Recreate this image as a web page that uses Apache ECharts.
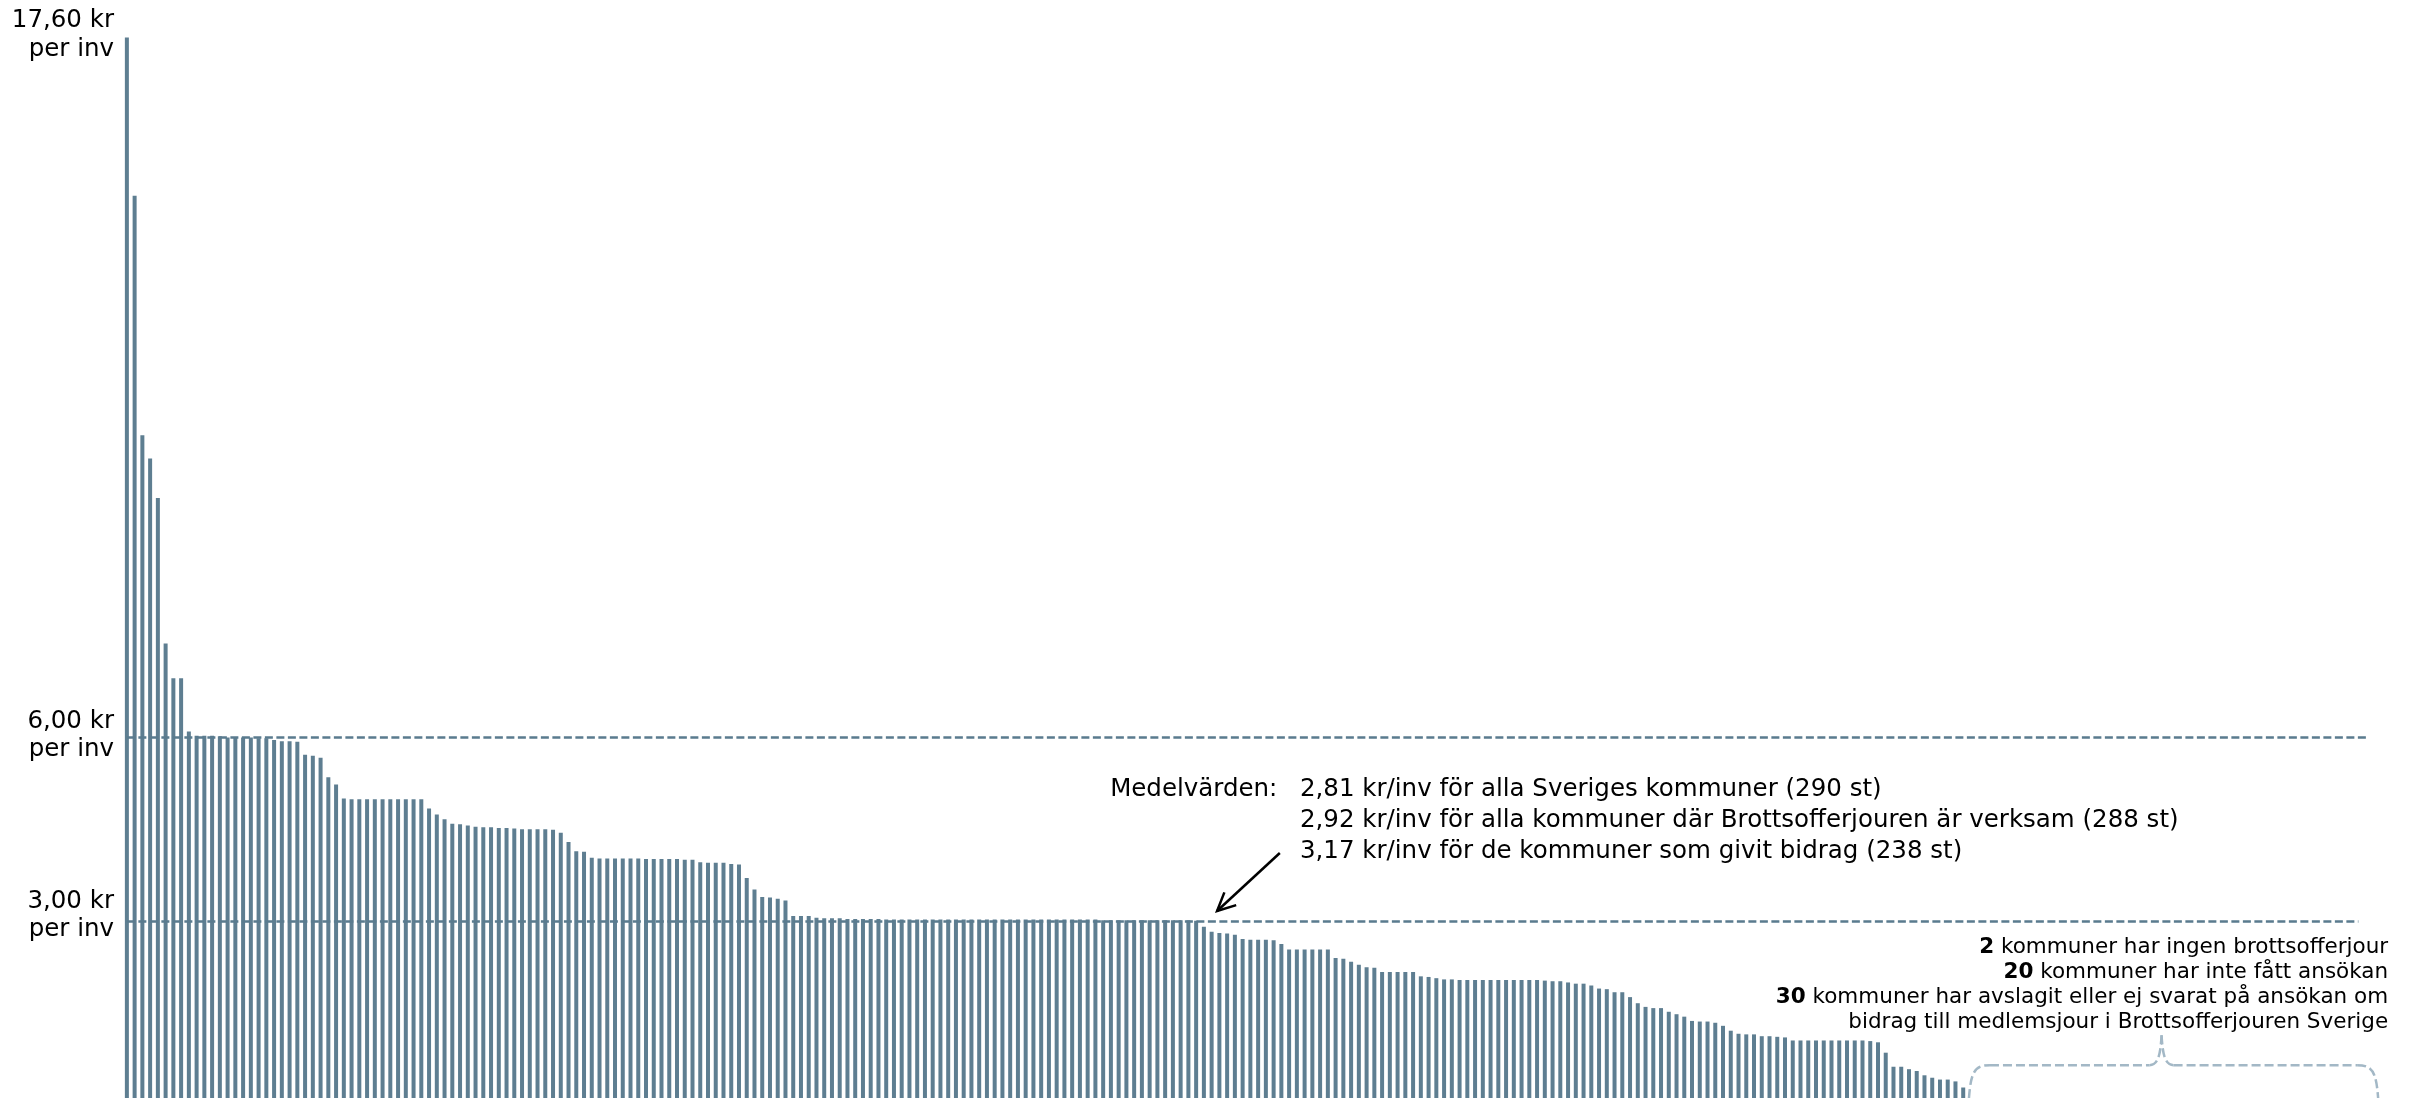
<!DOCTYPE html>
<html>
<head>
<meta charset="utf-8">
<script src="https://cdn.jsdelivr.net/npm/echarts@6/dist/echarts.min.js"></script>
<style>
html,body{margin:0;padding:0;background:#fff;overflow:hidden;}
#c{width:2415px;height:1104px;}
</style>
</head>
<body>
<div id="c"></div>
<script>
// ---- DATA ----
// kr per invånare, kommuner som givit bidrag (238 st), sorterade fallande
const values = [
  17.46, 14.87, 10.95, 10.57, 9.92, 7.54, 6.97, 6.97, 6.10, 6.03,
  6.03, 6.03, 6.02, 6.00, 6.00, 6.00, 6.00, 5.99, 5.99, 5.96,
  5.94, 5.94, 5.93, 5.72, 5.70, 5.67, 5.35, 5.23, 5.00, 4.99,
  4.99, 4.99, 4.99, 4.99, 4.99, 4.99, 4.99, 4.99, 4.99, 4.84,
  4.74, 4.66, 4.59, 4.58, 4.56, 4.54, 4.53, 4.53, 4.52, 4.52,
  4.51, 4.50, 4.50, 4.50, 4.50, 4.49, 4.44, 4.29, 4.14, 4.13,
  4.03, 4.02, 4.02, 4.02, 4.02, 4.02, 4.02, 4.01, 4.01, 4.01,
  4.01, 4.01, 4.00, 4.00, 3.96, 3.95, 3.95, 3.95, 3.93, 3.92,
  3.70, 3.51, 3.39, 3.38, 3.36, 3.33, 3.08, 3.08, 3.08, 3.05,
  3.04, 3.04, 3.04, 3.03, 3.03, 3.03, 3.03, 3.03, 3.02, 3.02,
  3.02, 3.02, 3.02, 3.02, 3.02, 3.02, 3.02, 3.02, 3.02, 3.02,
  3.02, 3.02, 3.02, 3.02, 3.02, 3.02, 3.02, 3.02, 3.02, 3.02,
  3.02, 3.02, 3.02, 3.02, 3.02, 3.02, 3.01, 3.01, 3.01, 3.01,
  3.01, 3.01, 3.01, 3.01, 3.01, 3.01, 3.01, 3.01, 3.00, 2.90,
  2.82, 2.80, 2.79, 2.77, 2.70, 2.69, 2.69, 2.69, 2.68, 2.62,
  2.53, 2.53, 2.53, 2.53, 2.53, 2.53, 2.39, 2.38, 2.33, 2.28,
  2.24, 2.23, 2.16, 2.16, 2.16, 2.16, 2.16, 2.09, 2.08, 2.06,
  2.04, 2.04, 2.03, 2.03, 2.03, 2.03, 2.03, 2.03, 2.03, 2.03,
  2.03, 2.03, 2.03, 2.02, 2.01, 2.01, 1.99, 1.97, 1.97, 1.94,
  1.89, 1.88, 1.83, 1.83, 1.75, 1.65, 1.59, 1.57, 1.57, 1.51,
  1.47, 1.43, 1.36, 1.35, 1.35, 1.33, 1.28, 1.20, 1.15, 1.14,
  1.14, 1.11, 1.11, 1.10, 1.09, 1.04, 1.04, 1.04, 1.04, 1.04,
  1.04, 1.04, 1.04, 1.04, 1.04, 1.03, 1.01, 0.84, 0.61, 0.61,
  0.57, 0.54, 0.47, 0.43, 0.40, 0.40, 0.37, 0.27
];
const totalKommuner = 290;        // alla Sveriges kommuner
const ingenJour = 2;
const ejFattAnsokan = 20;
const avslagit = 30;
const categories = Array.from({length: totalKommuner}, (_, i) => 'Kommun ' + (i + 1));
const yTicks = [3, 6, 17.6];
const yMax = 17.6;
const refLines = [6, 3];
const meanLabel = 'Medelvärden:';
const meanLines = [
  '2,81 kr/inv för alla Sveriges kommuner (290 st)',
  '2,92 kr/inv för alla kommuner där Brottsofferjouren är verksam (288 st)',
  '3,17 kr/inv för de kommuner som givit bidrag (238 st)'
];
const noteLines = [
  ['2', ' kommuner har ingen brottsofferjour'],
  ['20', ' kommuner har inte fått ansökan'],
  ['30', ' kommuner har avslagit eller ej svarat på ansökan om'],
  ['', 'bidrag till medlemsjour i Brottsofferjouren Sverige']
];

// ---- STYLE ----
const FONT = 'DejaVu Sans';
const BAR = '#5e7e91';
const LBL = 24.5, LBL_LH = 28.5;
// small vertical nudges (px) of the tick labels relative to their tick
const labelNudge = {'3': -5, '6': -2, '17.6': 6};

const rich = {t: {fontFamily: FONT, fontSize: LBL, lineHeight: LBL_LH, color: '#000', align: 'right'}};
Object.keys(labelNudge).forEach(k => {
  rich['s' + k.replace('.', '_')] = {fontSize: 1, lineHeight: Math.abs(labelNudge[k]) * 2, color: '#fff'};
});
const fmt = v => {
  const key = String(v);
  const txt = '{t|' + v.toFixed(2).replace('.', ',') + ' kr}\n{t|per inv}';
  const n = labelNudge[key] || 0;
  if (!n) return txt;
  const sp = '{s' + key.replace('.', '_') + '| }';
  return n > 0 ? sp + '\n' + txt : txt + '\n' + sp;
};

const chart = echarts.init(document.getElementById('c'), null, {renderer: 'canvas'});

chart.setOption({
  animation: false,
  backgroundColor: '#ffffff',
  grid: {left: 123, right: 45, top: 24.6, bottom: 0, containLabel: false},
  xAxis: {
    type: 'category', data: categories, boundaryGap: true,
    axisLine: {show: false}, axisTick: {show: false}, axisLabel: {show: false}, splitLine: {show: false}
  },
  yAxis: {
    type: 'value', min: 0, max: yMax,
    axisLine: {show: false}, axisTick: {show: false}, splitLine: {show: false},
    axisLabel: {customValues: yTicks, formatter: fmt, rich: rich, margin: 9, color: '#000'}
  },
  series: [{
    type: 'bar', data: values, barWidth: 4,
    itemStyle: {color: BAR},
    markLine: {
      silent: true, symbol: ['none', 'none'], label: {show: false},
      lineStyle: {type: [8, 3.5], width: 2.5, color: '#5a7b8e'},
      data: [
        [{coord: [0, refLines[0]]}, {coord: [totalKommuner - 1, refLines[0]]}],
        [{coord: [0, refLines[1]]}, {coord: [totalKommuner - 2, refLines[1]]}]
      ]
    }
  }]
});

// ---- ANNOTATIONS (anchored to axis coordinates) ----
const p0 = chart.convertToPixel({gridIndex: 0}, [0, 0]);
const pN = chart.convertToPixel({gridIndex: 0}, [totalKommuner - 1, 0]);
const step = (pN[0] - p0[0]) / (totalKommuner - 1);
const X = i => p0[0] + i * step;
const Y = v => chart.convertToPixel({gridIndex: 0}, [0, v])[1];

// arrow
const tail = [X(148.8), Y(4.11)];
const tip = [X(140.7), Y(3.16)];
const ang = Math.atan2(tail[1] - tip[1], tail[0] - tip[0]);
const wl = 20, wa = 0.45;
const w1 = [tip[0] + wl * Math.cos(ang + wa), tip[1] + wl * Math.sin(ang + wa)];
const w2 = [tip[0] + wl * Math.cos(ang - wa), tip[1] + wl * Math.sin(ang - wa)];

// bracket over the kommuner without bidrag
const nGiven = values.length;
const xl = X(nGiven) - 2;
const xr = X(totalKommuner - 1) + 12;
const xt = X(262.6);
const yh = Y(0.636);
const yt = Y(1.125);
const yb = 1098;
const bStyle = {stroke: '#a3b8c6', lineWidth: 2.5, lineDash: [9, 4], fill: null};

const richNote = noteLines.map(l => (l[0] ? '{b|' + l[0] + '}' : '') + l[1]).join('\n');
const meanY = Y(5.15);

chart.setOption({
  graphic: [
    {type: 'line', silent: true, shape: {x1: tail[0], y1: tail[1], x2: tip[0], y2: tip[1]},
      style: {stroke: '#000', lineWidth: 2.5}},
    {type: 'polyline', silent: true, shape: {points: [w1, tip, w2]},
      style: {stroke: '#000', lineWidth: 2.5, fill: null}},
    {type: 'text', silent: true, x: X(126.9), y: meanY,
      style: {text: meanLabel, fontFamily: FONT, fontSize: 24.5, fill: '#000', verticalAlign: 'middle', align: 'left'}},
    {type: 'text', silent: true, x: X(151.4), y: meanY - 15.5,
      style: {text: meanLines.join('\n'), fontFamily: FONT, fontSize: 24.5, lineHeight: 31, fill: '#000', verticalAlign: 'top', align: 'left'}},
    {type: 'text', silent: true, x: X(totalKommuner - 1) + 22, y: Y(2.56) - 12.5,
      style: {text: richNote, fontFamily: FONT, fontSize: 21.5, lineHeight: 25, fill: '#000', align: 'right', verticalAlign: 'top',
        rich: {b: {fontWeight: 'bold', fontFamily: FONT, fontSize: 21.5, lineHeight: 25, fill: '#000'}}}},
    {type: 'bezierCurve', silent: true, shape: {x1: xl, y1: yb, cpx1: xl + 2, cpy1: yh + 6, cpx2: xl + 6, cpy2: yh, x2: xl + 21, y2: yh}, style: bStyle},
    {type: 'line', silent: true, shape: {x1: xl + 21, y1: yh, x2: xt - 12, y2: yh}, style: bStyle},
    {type: 'bezierCurve', silent: true, shape: {x1: xt - 12, y1: yh, cpx1: xt - 3, cpy1: yh, cpx2: xt - 1, cpy2: yh - 12, x2: xt, y2: yt}, style: bStyle},
    {type: 'bezierCurve', silent: true, shape: {x1: xt, y1: yt, cpx1: xt + 1, cpy1: yh - 12, cpx2: xt + 3, cpy2: yh, x2: xt + 12, y2: yh}, style: bStyle},
    {type: 'line', silent: true, shape: {x1: xt + 12, y1: yh, x2: xr - 21, y2: yh}, style: bStyle},
    {type: 'bezierCurve', silent: true, shape: {x1: xr - 21, y1: yh, cpx1: xr - 6, cpy1: yh, cpx2: xr - 2, cpy2: yh + 6, x2: xr, y2: yb}, style: bStyle}
  ]
});
</script>
</body>
</html>
